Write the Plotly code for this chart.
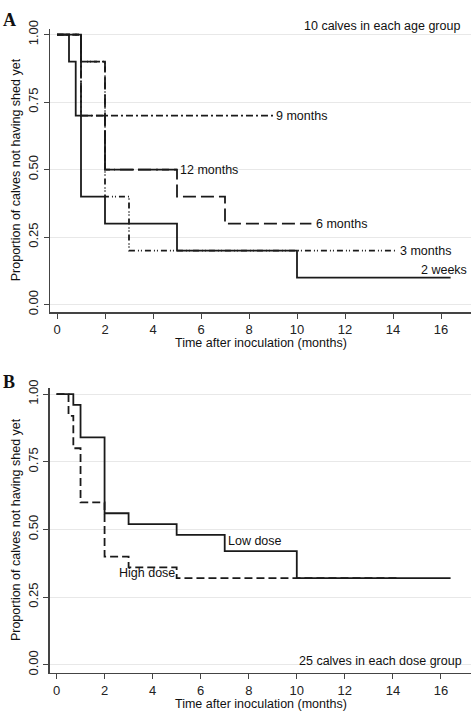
import plotly.graph_objects as go

# ---------------- data ----------------
# Panel A: age groups (Kaplan-Meier step functions)
t_2w = [0, 0.5, 0.78, 1, 2, 5, 10, 16.4]
s_2w = [1.0, 0.9, 0.7, 0.4, 0.3, 0.2, 0.1, 0.1]
t_3m = [0, 1, 2, 3, 14.1]
s_3m = [1.0, 0.9, 0.4, 0.2, 0.2]
t_6m = [0, 1, 2, 5, 7, 10.6]
s_6m = [1.0, 0.9, 0.5, 0.4, 0.3, 0.3]
t_9m = [0, 1, 9.0]
s_9m = [1.0, 0.7, 0.7]
t_12m = [0, 1, 2, 5.0]
s_12m = [1.0, 0.7, 0.5, 0.5]

# Panel B: dose groups
t_low = [0, 0.7, 1, 2, 3, 5, 7, 10, 16.4]
s_low = [1.0, 0.96, 0.84, 0.56, 0.52, 0.48, 0.42, 0.32, 0.32]
t_high = [0, 0.5, 0.7, 1, 2, 3, 5, 14.15]
s_high = [1.0, 0.92, 0.80, 0.60, 0.40, 0.36, 0.32, 0.32]

x_ticks = [0, 2, 4, 6, 8, 10, 12, 14, 16]
y_ticks = [0.0, 0.25, 0.5, 0.75, 1.0]
y_ticktext = ["0.00", "0.25", "0.50", "0.75", "1.00"]

W, H = 472, 715
FONT = "Liberation Sans, Arial, sans-serif"
LC = "#1a1a1a"
LW = 1.8

fig = go.Figure()

def add_curve(t, s, dash, xa, ya):
    fig.add_trace(go.Scatter(x=t, y=s, mode="lines", line_shape="hv",
                             line=dict(color=LC, width=LW, dash=dash),
                             xaxis=xa, yaxis=ya, showlegend=False,
                             hoverinfo="skip"))

add_curve(t_9m, s_9m, "7px,3px,2px,3px", "x", "y")
add_curve(t_12m, s_12m, "20px,4px", "x", "y")
add_curve(t_6m, s_6m, "13px,5px", "x", "y")
add_curve(t_3m, s_3m, "6px,3px,1px,2px,1px,3px", "x", "y")
add_curve(t_2w, s_2w, "solid", "x", "y")

add_curve(t_high, s_high, "8px,4px", "x2", "y2")
add_curve(t_low, s_low, "solid", "x2", "y2")

def px_x(p):
    return p / W

def px_y(p):
    return 1 - p / H

xr = [-7 / 24, 414 / 24]
axis_common = dict(showline=True, linecolor="#444", linewidth=1.5,
                   ticks="outside", ticklen=5, tickcolor="#444", tickwidth=1,
                   tickfont=dict(family=FONT, size=13, color="#222"),
                   zeroline=False)

layout = dict(
    width=W, height=H,
    margin=dict(l=0, r=0, t=0, b=0),
    paper_bgcolor="white", plot_bgcolor="white",
    font=dict(family=FONT, size=12, color="#222"),
    xaxis=dict(domain=[px_x(50), px_x(471)], range=xr, tickvals=x_ticks,
               showgrid=False, anchor="y", **axis_common),
    yaxis=dict(domain=[px_y(308.3), px_y(20)],
               range=[-7.6 / 274.7, 1 + 6 / 274.7],
               tickvals=y_ticks, ticktext=y_ticktext, tickangle=-90,
               showgrid=True, gridcolor="#e8e8e8", gridwidth=1,
               anchor="x", **axis_common),
    xaxis2=dict(domain=[px_x(49.5), px_x(471)], range=xr, tickvals=x_ticks,
                showgrid=False, anchor="y2", **axis_common),
    yaxis2=dict(domain=[px_y(675), px_y(385)],
                range=[-8 / 275.3, 1 + 6.7 / 275.3],
                tickvals=y_ticks, ticktext=y_ticktext, tickangle=-90,
                showgrid=True, gridcolor="#e8e8e8", gridwidth=1,
                anchor="x2", **axis_common),
)
fig.update_layout(**layout)

ann = []
def lab(text, x, y, xref, yref, xanchor="left", yanchor="middle", size=12.5,
        family=FONT, angle=0, bold=False):
    ann.append(dict(text=("<b>%s</b>" % text) if bold else text, x=x, y=y,
                    xref=xref, yref=yref, xanchor=xanchor, yanchor=yanchor,
                    showarrow=False, textangle=angle,
                    font=dict(family=family, size=size, color="#111")))

# curve labels panel A
lab("9 months", 9.05, 0.7, "x", "y")
lab("12 months", 5.05, 0.5, "x", "y")
lab("6 months", 10.7, 0.3, "x", "y")
lab("3 months", 14.2, 0.2, "x", "y")
lab("2 weeks", 17.15, 0.127, "x", "y", xanchor="right")
# curve labels panel B
lab("Low dose", 7.05, 0.458, "x2", "y2")
lab("High dose", 2.5, 0.338, "x2", "y2")

# notes
lab("10 calves in each age group", px_x(462), px_y(17), "paper", "paper",
    xanchor="right")
lab("25 calves in each dose group", px_x(464), px_y(663), "paper", "paper",
    xanchor="right")

# axis titles
lab("Time after inoculation (months)", px_x(260.5), px_y(340), "paper", "paper",
    xanchor="center")
lab("Time after inoculation (months)", px_x(260.5), px_y(707), "paper", "paper",
    xanchor="center")
lab("Proportion of calves not having shed yet", px_x(16), px_y(164), "paper",
    "paper", xanchor="center", angle=-90)
lab("Proportion of calves not having shed yet", px_x(16), px_y(530), "paper",
    "paper", xanchor="center", angle=-90)

# panel letters
lab("A", px_x(9), px_y(11), "paper", "paper", xanchor="center", size=18,
    family="Liberation Serif, Times New Roman, serif", bold=True)
lab("B", px_x(9), px_y(379), "paper", "paper", xanchor="center", size=18,
    family="Liberation Serif, Times New Roman, serif", bold=True)

fig.update_layout(annotations=ann)

post = ("document.documentElement.style.margin='0';"
        "document.documentElement.style.overflow='hidden';"
        "document.body.style.margin='0';"
        "document.body.style.padding='0';"
        "document.body.style.overflow='hidden';")
fig.write_html("out.html", post_script=post,
               config={"displayModeBar": False, "staticPlot": True})
